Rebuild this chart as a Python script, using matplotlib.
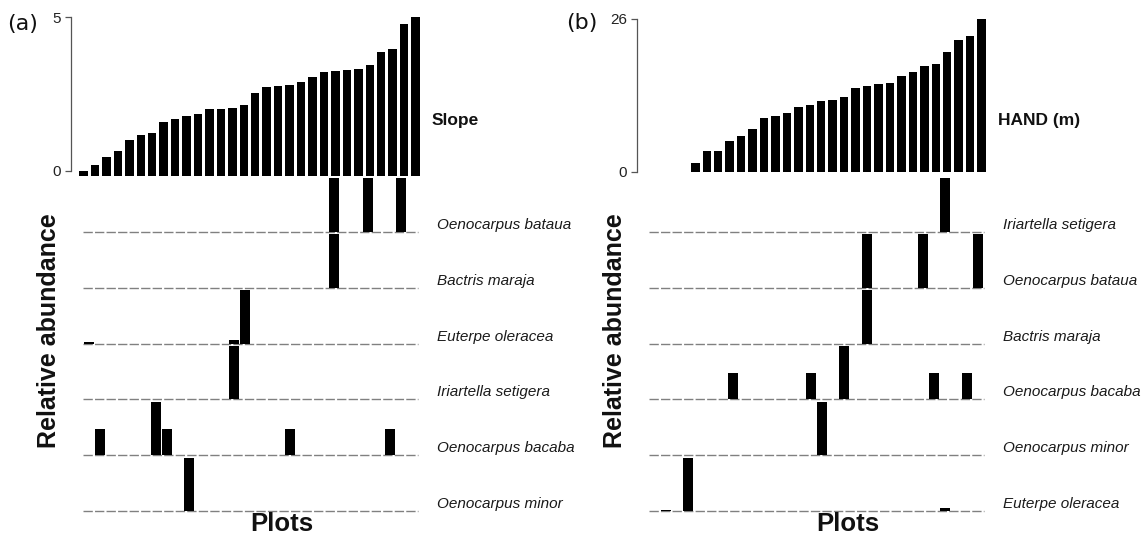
import matplotlib
matplotlib.use("Agg")
import matplotlib.pyplot as plt
from matplotlib.transforms import blended_transform_factory

# ---------------- data ----------------
N_PLOTS = 30

# environmental gradients (plots sorted by value)
slope = [0.15, 0.34, 0.60, 0.77, 1.11, 1.28, 1.35, 1.69, 1.79, 1.89,
         1.94, 2.10, 2.10, 2.12, 2.22, 2.62, 2.79, 2.82, 2.87, 2.95,
         3.10, 3.28, 3.30, 3.34, 3.38, 3.50, 3.89, 3.99, 4.78, 5.00]
hand = [0, 0, 0, 0, 1.47, 3.57, 3.57, 5.33, 6.12, 7.31,
        9.18, 9.58, 9.97, 11.05, 11.39, 12.07, 12.29, 12.69, 14.33, 14.67,
        14.90, 15.18, 16.37, 17.05, 18.02, 18.36, 20.40, 22.44, 23.17, 26.0]

# relative abundance per species (plot index -> value), panel (a) order
species_a = ["Oenocarpus bataua", "Bactris maraja", "Euterpe oleracea",
             "Iriartella setigera", "Oenocarpus bacaba", "Oenocarpus minor"]
abund_a_bataua = {22: 1.0, 25: 1.0, 28: 1.0}
abund_a_maraja = {22: 1.0}
abund_a_oleracea = {0: 0.03, 13: 0.07, 14: 1.0}
abund_a_setigera = {13: 1.0}
abund_a_bacaba = {1: 0.5, 6: 1.0, 7: 0.5, 18: 0.5, 27: 0.5}
abund_a_minor = {9: 1.0}

# panel (b) order
species_b = ["Iriartella setigera", "Oenocarpus bataua", "Bactris maraja",
             "Oenocarpus bacaba", "Oenocarpus minor", "Euterpe oleracea"]
abund_b_setigera = {26: 1.0}
abund_b_bataua = {19: 1.0, 24: 1.0, 29: 1.0}
abund_b_maraja = {19: 1.0}
abund_b_bacaba = {7: 0.5, 14: 0.5, 17: 1.0, 25: 0.5, 28: 0.5}
abund_b_minor = {15: 1.0}
abund_b_oleracea = {1: 0.03, 3: 1.0, 26: 0.06}

panels = [
    dict(tag="(a)", env=slope, env_label="Slope",
         rows=list(zip(species_a, [abund_a_bataua, abund_a_maraja, abund_a_oleracea,
                                   abund_a_setigera, abund_a_bacaba, abund_a_minor]))),
    dict(tag="(b)", env=hand, env_label="HAND (m)",
         rows=list(zip(species_b, [abund_b_setigera, abund_b_bataua, abund_b_maraja,
                                   abund_b_bacaba, abund_b_minor, abund_b_oleracea]))),
]

# ---------------- layout (pixels) ----------------
W, H, DPI = 1148, 538, 100
plt.rcParams['font.family'] = ['Liberation Sans', 'DejaVu Sans']
plt.rcParams['lines.scale_dashes'] = False

fig = plt.figure(figsize=(W / DPI, H / DPI), dpi=DPI)


def rect(x0, y0, x1, y1):
    return [x0 / W, 1 - y1 / H, (x1 - x0) / W, (y1 - y0) / H]


def fig_px(x, y):
    return x / W, 1 - y / H


DX = [0, 566]
TOP_BASE = [175.5, 172.0]
TOP_TOP = [17.3, 19.0]
TAG_POS = [(23, 24), (582, 22.5)]
ROW0_BASE = 231.7
ROW_STEP = 55.9
SPINE_COL = "#555555"
DASH_COL = "#808080"

for p, panel in enumerate(panels):
    dx = DX[p]
    env = panel["env"]
    # ---- top environmental bar chart ----
    spine_x, right_x = 71 + dx, 424 + dx
    c0, pitch = 83.5 + dx, 11.45
    ax = fig.add_axes(rect(spine_x, TOP_TOP[p], right_x, TOP_BASE[p]))
    ax.bar(range(N_PLOTS), env, width=0.74, color="black", linewidth=0)
    ax.set_xlim((spine_x - c0) / pitch, (right_x - c0) / pitch)
    ax.set_ylim(0, max(env))
    for s in ["top", "right", "bottom"]:
        ax.spines[s].set_visible(False)
    ax.spines["left"].set_bounds(min(env), max(env))
    ax.spines["left"].set_color(SPINE_COL)
    ax.spines["left"].set_linewidth(0.9)
    ax.set_xticks([])
    ax.set_yticks([min(env), max(env)])
    ax.set_yticklabels([f"{min(env):.0f}", f"{max(env):.0f}"], fontsize=11, color="#222222")
    ax.tick_params(axis="y", length=4, width=0.9, color=SPINE_COL, pad=3)
    ax.patch.set_alpha(0)

    fig.text(*fig_px(432 + dx, 121), panel["env_label"], fontsize=12.5,
             fontweight="bold", ha="left", va="center", color="#111111")

    # ---- species rows ----
    for k, (name, ab) in enumerate(panel["rows"]):
        base = ROW0_BASE + ROW_STEP * k
        rax = fig.add_axes(rect(83 + dx, base - ROW_STEP, 418 + dx, base))
        idx = sorted(ab.keys())
        rax.axhline(0, color=DASH_COL, lw=1.0, ls=(0, (6.7, 1.6)), zorder=1, clip_on=False)
        rax.bar(idx, [ab[i] for i in idx], width=0.9, color="black", linewidth=0, zorder=2)
        rax.set_xlim(-0.5, N_PLOTS - 0.5)
        rax.set_ylim(0, 1.045)
        rax.axis("off")
        tr = blended_transform_factory(rax.transAxes, rax.transData)
        rax.text((437 - 83) / 335, 0.13, name, transform=tr, fontsize=11,
                 style="italic", ha="left", va="center", color="#1a1a1a")

    fig.text(*fig_px(49 + dx, 331), "Relative abundance", rotation=90, fontsize=18,
             fontweight="bold", ha="center", va="center", color="#111111")
    fig.text(*fig_px(282 + dx, 524), "Plots", fontsize=18.5,
             fontweight="bold", ha="center", va="center", color="#111111")
    fig.text(*fig_px(*TAG_POS[p]), panel["tag"], fontsize=16, family="DejaVu Sans",
             ha="center", va="center", color="#111111")

fig.savefig("out.png", dpi=DPI)
